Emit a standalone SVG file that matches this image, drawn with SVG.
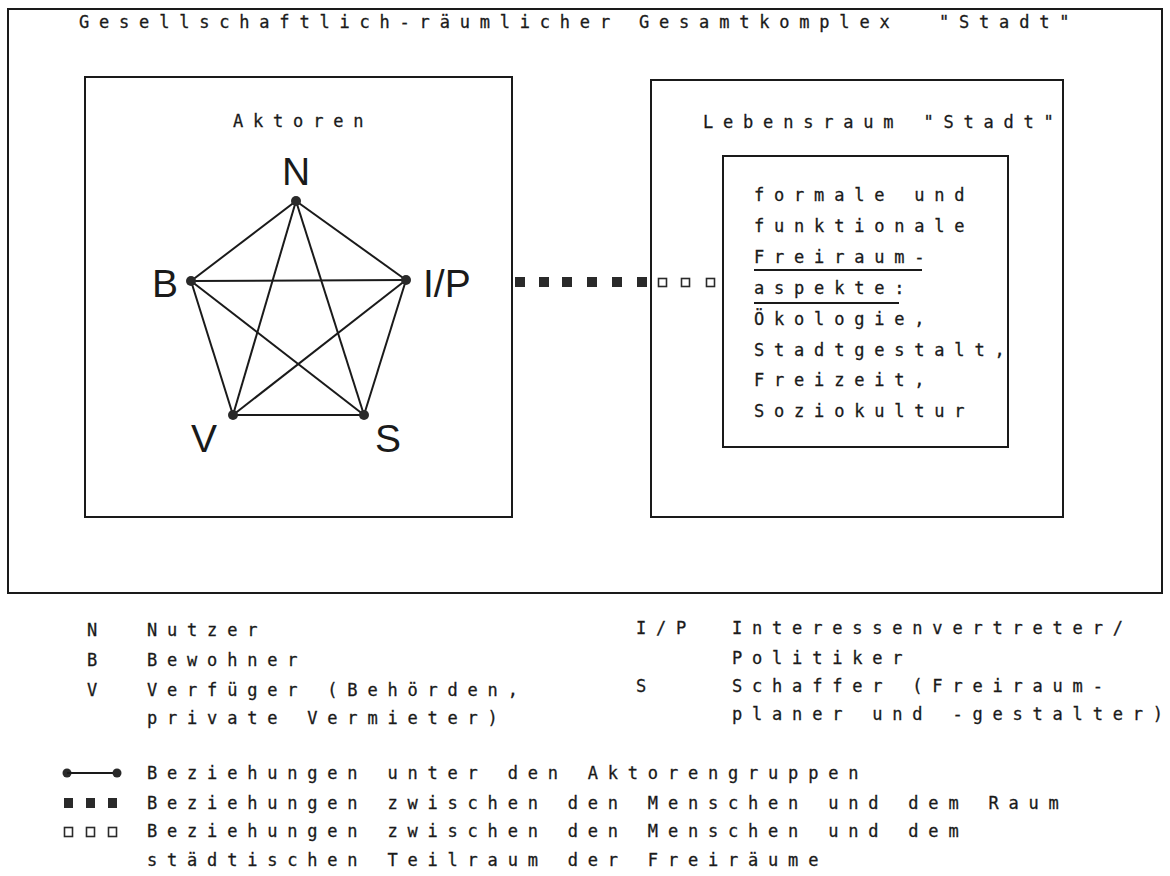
<svg xmlns="http://www.w3.org/2000/svg" width="1170" height="876" viewBox="0 0 1170 876">
<style>
.box{fill:none;stroke:#1a1a1a;stroke-width:2}
.tw{font-family:"DejaVu Sans Mono","Liberation Mono",monospace;font-size:17px;fill:#1a1a1a;stroke:#1a1a1a;stroke-width:0.3;letter-spacing:9.8px}
.big{font-family:"Liberation Sans",Arial,sans-serif;font-size:39px;fill:#1a1a1a;text-anchor:middle}
.edge{stroke:#1a1a1a;stroke-width:2;fill:none}
.dot{fill:#2a2a2a}
.fsq{fill:#2a2a2a}
.osq{fill:#fff;stroke:#2a2a2a;stroke-width:1.6}
.ls0{letter-spacing:0}
</style>
<rect width="1170" height="876" fill="#fff"/>
<g id="gesamtkomplex">
<rect class="box" x="8" y="9" width="1154" height="584"/>
<text class="tw" x="79" y="28">Gesellschaftlich-räumlicher</text>
<text class="tw" x="639" y="28">Gesamtkomplex</text>
<text class="tw" x="939" y="28">"Stadt<tspan class="ls0">"</tspan></text>
</g>
<g id="aktoren">
<rect class="box" x="85" y="77" width="427" height="440"/>
<text class="tw" x="233" y="127">Aktoren</text>
</g>
<g id="connectors">
<line class="edge" x1="296" y1="201" x2="191" y2="281"/>
<line class="edge" x1="296" y1="201" x2="406" y2="280"/>
<line class="edge" x1="296" y1="201" x2="233" y2="415"/>
<line class="edge" x1="296" y1="201" x2="364" y2="415"/>
<line class="edge" x1="191" y1="281" x2="406" y2="280"/>
<line class="edge" x1="191" y1="281" x2="233" y2="415"/>
<line class="edge" x1="191" y1="281" x2="364" y2="415"/>
<line class="edge" x1="406" y1="280" x2="233" y2="415"/>
<line class="edge" x1="406" y1="280" x2="364" y2="415"/>
<line class="edge" x1="233" y1="415" x2="364" y2="415"/>
<g id="raum-link">
<rect class="fsq" x="515" y="277" width="10" height="10"/>
<rect class="fsq" x="539" y="277" width="10" height="10"/>
<rect class="fsq" x="562" y="277" width="10" height="10"/>
<rect class="fsq" x="587" y="277" width="10" height="10"/>
<rect class="fsq" x="612" y="277" width="10" height="10"/>
<rect class="fsq" x="637" y="277" width="10" height="10"/>
<rect class="osq" x="658.5" y="278.5" width="8" height="8"/>
<rect class="osq" x="681.5" y="278.5" width="8" height="8"/>
<rect class="osq" x="706.5" y="278.5" width="8" height="8"/>
</g>
</g>
<g id="node-N"><circle class="dot" cx="296" cy="201" r="5"/><text class="big" x="296" y="185">N</text></g>
<g id="node-B"><circle class="dot" cx="191" cy="281" r="5"/><text class="big" x="165" y="297">B</text></g>
<g id="node-IP"><circle class="dot" cx="406" cy="280" r="5"/><text class="big" x="423" y="297" style="text-anchor:start">I/P</text></g>
<g id="node-V"><circle class="dot" cx="233" cy="415" r="5"/><text class="big" x="204" y="452">V</text></g>
<g id="node-S"><circle class="dot" cx="364" cy="415" r="5"/><text class="big" x="388" y="452">S</text></g>
<g id="lebensraum">
<rect class="box" x="651" y="80" width="412" height="437"/>
<text class="tw" x="703" y="128">Lebensraum "Stadt<tspan class="ls0">"</tspan></text>
</g>
<g id="freiraum">
<rect class="box" x="723" y="156" width="285" height="291"/>
<text class="tw" x="754" y="201">formale und</text>
<text class="tw" x="754" y="232">funktionale</text>
<text class="tw" x="754" y="263">Freiraum-</text>
<line class="edge" x1="754" y1="270" x2="922" y2="270"/>
<text class="tw" x="754" y="294">aspekte:</text>
<line class="edge" x1="754" y1="303" x2="899" y2="303"/>
<text class="tw" x="754" y="325">Ökologie,</text>
<text class="tw" x="754" y="356">Stadtgestalt,</text>
<text class="tw" x="754" y="386">Freizeit,</text>
<text class="tw" x="754" y="417">Soziokultur</text>
</g>
<g id="legende">
<text class="tw" x="87" y="636">N</text><text class="tw" x="147" y="636">Nutzer</text>
<text class="tw" x="87" y="666">B</text><text class="tw" x="147" y="666">Bewohner</text>
<text class="tw" x="87" y="696">V</text><text class="tw" x="147" y="696">Verfüger (Behörden,</text>
<text class="tw" x="147" y="724">private Vermieter)</text>
<text class="tw" x="636" y="634">I/P</text><text class="tw" x="732" y="634">Interessenvertreter/</text>
<text class="tw" x="732" y="664">Politiker</text>
<text class="tw" x="636" y="692">S</text><text class="tw" x="732" y="692">Schaffer (Freiraum-</text>
<text class="tw" x="732" y="720">planer und -gestalter<tspan class="ls0">)</tspan></text>
<circle class="dot" cx="67" cy="773" r="4.5"/><line class="edge" x1="67" y1="773" x2="117" y2="773"/><circle class="dot" cx="117" cy="773" r="4.5"/>
<text class="tw" x="147" y="779">Beziehungen unter den Aktorengruppen</text>
<rect class="fsq" x="64" y="798" width="9" height="10"/><rect class="fsq" x="86" y="798" width="9" height="10"/><rect class="fsq" x="108" y="798" width="9" height="10"/>
<text class="tw" x="147" y="809">Beziehungen zwischen den Menschen und dem Raum</text>
<rect class="osq" x="64.5" y="827.5" width="8" height="9"/><rect class="osq" x="86.5" y="827.5" width="8" height="9"/><rect class="osq" x="108.5" y="827.5" width="8" height="9"/>
<text class="tw" x="147" y="837">Beziehungen zwischen den Menschen und dem</text>
<text class="tw" x="147" y="866">städtischen Teilraum der Freiräume</text>
</g>
</svg>
